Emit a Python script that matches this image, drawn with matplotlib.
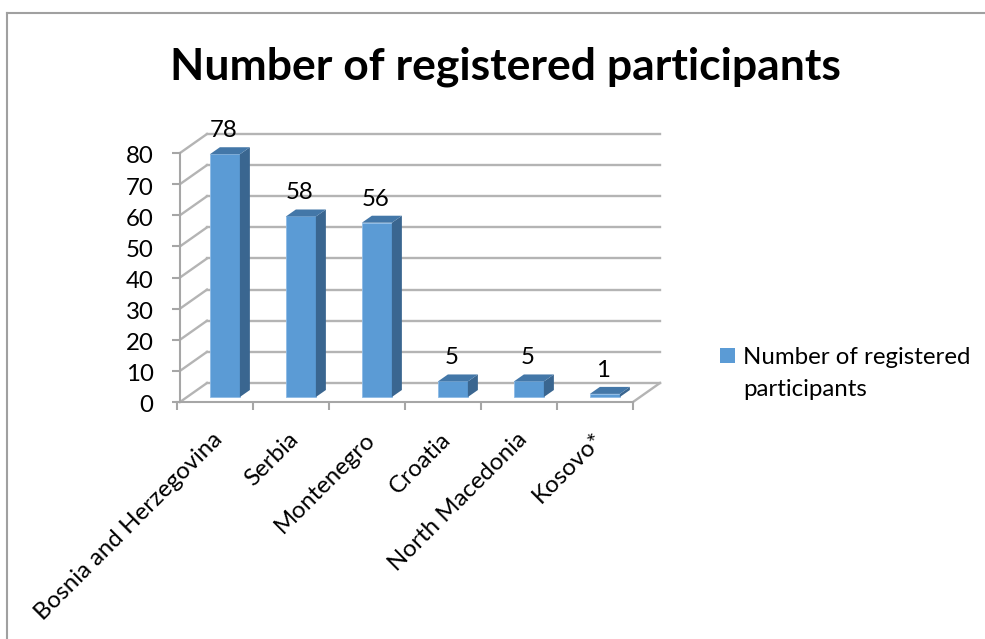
import numpy as np
import matplotlib
matplotlib.use('Agg')
import matplotlib.pyplot as plt
from matplotlib.lines import Line2D
from matplotlib.patches import Rectangle
from matplotlib.transforms import ScaledTranslation

plt.rcParams['font.family'] = ['Lato', 'DejaVu Sans']

# Data
countries = ['Bosnia and Herzegovina', 'Serbia', 'Montenegro', 'Croatia', 'North Macedonia', 'Kosovo*']
participants = [78, 58, 56, 5, 5, 1]
y_ticks = [0, 10, 20, 30, 40, 50, 60, 70, 80]
title = 'Number of registered participants'
legend_text = 'Number of registered\nparticipants'

W, H = 985, 639
fig = plt.figure(figsize=(W / 100, H / 100), dpi=100)
ax = fig.add_axes([177 / W, (H - 402) / H, 456 / W, 249 / H])
ax.set_xlim(0, 6)
ax.set_ylim(0, 80)

front = '#5B9BD5'
side = '#3A6690'
top = '#4377A8'
grid = '#B4B4B4'
axis_col = '#A6A6A6'
fs = 17.3

# fake 3d: how far the back wall and the bar depth are shifted
wall_dx, wall_dy = 27 / 76, 19 / 3.11
wall_left = 3 / 76
bar_dx, bar_dy = 10 / 76, 7 / 3.11
bar_w = 30 / 76
bar_base = 1.6
bar_pos = np.arange(len(countries)) + 0.63

# walls
for t in y_ticks:
    ax.plot([wall_left + wall_dx, 6 + wall_dx], [t + wall_dy, t + wall_dy], color=grid, lw=1.7, clip_on=False, zorder=1)
    ax.plot([wall_left, wall_left + wall_dx], [t, t + wall_dy], color=grid, lw=1.7, clip_on=False, zorder=1)
ax.plot([6, 6 + wall_dx], [0, wall_dy], color=grid, lw=1.7, clip_on=False, zorder=1)

# bars
ax.bar(bar_pos, participants, width=bar_w, bottom=bar_base, color=front, edgecolor='#8DBBE6', linewidth=0.6,
       zorder=3, clip_on=False)
for x, v in zip(bar_pos, participants):
    x0, x1 = x - bar_w / 2, x + bar_w / 2
    y1 = v + bar_base
    ax.fill([x1, x1 + bar_dx, x1 + bar_dx, x1], [bar_base, bar_base + bar_dy, y1 + bar_dy, y1],
            color=side, lw=0, zorder=3, clip_on=False)
    ax.fill([x0, x0 + bar_dx, x1 + bar_dx, x1], [y1, y1 + bar_dy, y1 + bar_dy, y1],
            color=top, lw=0, zorder=3, clip_on=False)
    ax.annotate(str(v), (x, y1), xytext=(-1, 17), textcoords='offset points', ha='center', va='center',
                fontsize=fs, color='black', zorder=5)

# axes
for name in ['top', 'right']:
    ax.spines[name].set_visible(False)
ax.spines['left'].set_position(('data', wall_left))
for name in ['left', 'bottom']:
    ax.spines[name].set_color(axis_col)
    ax.spines[name].set_linewidth(1.5)
    ax.spines[name].set_zorder(2)
ax.set_yticks(y_ticks)
ax.tick_params(axis='y', length=6, width=1.5, color=axis_col, labelsize=fs, pad=13, labelcolor='black')
ax.set_xticks(np.arange(len(countries) + 1))
ax.set_xticklabels([])
ax.tick_params(axis='x', which='major', length=6, width=1.5, color=axis_col)
ax.set_xticks(np.arange(len(countries)) + 0.5, countries, minor=True)
ax.tick_params(axis='x', which='minor', length=0, labelsize=fs, pad=14, labelcolor='black')
shift_x = ScaledTranslation(-3 / 100, -7 / 100, fig.dpi_scale_trans)
for lab in ax.get_xticklabels(minor=True):
    lab.set_rotation(45)
    lab.set_ha('right')
    lab.set_rotation_mode('anchor')
    lab.set_transform(lab.get_transform() + shift_x)
shift_y = ScaledTranslation(0, -2 / 100, fig.dpi_scale_trans)
for lab in ax.get_yticklabels():
    lab.set_transform(lab.get_transform() + shift_y)

# title, legend, chart frame
fig.text(505 / W, 1 - 67 / H, title, ha='center', va='center', fontsize=32, fontweight='bold', color='black')
fig.add_artist(Rectangle((720 / W, 1 - 363 / H), 15 / W, 15 / H, transform=fig.transFigure, color=front, lw=0))
fig.text(743 / W, 1 - 357 / H, legend_text.split('\n')[0], ha='left', va='center', fontsize=fs, color='black')
fig.text(743 / W, 1 - 389 / H, legend_text.split('\n')[1], ha='left', va='center', fontsize=fs, color='black')
fig.add_artist(Line2D([7 / W, 7 / W], [0, 1 - 13 / H], color='#A0A0A0', lw=1.5))
fig.add_artist(Line2D([7 / W, 1], [1 - 13 / H, 1 - 13 / H], color='#A0A0A0', lw=1.5))

fig.savefig('out.png', dpi=100)
